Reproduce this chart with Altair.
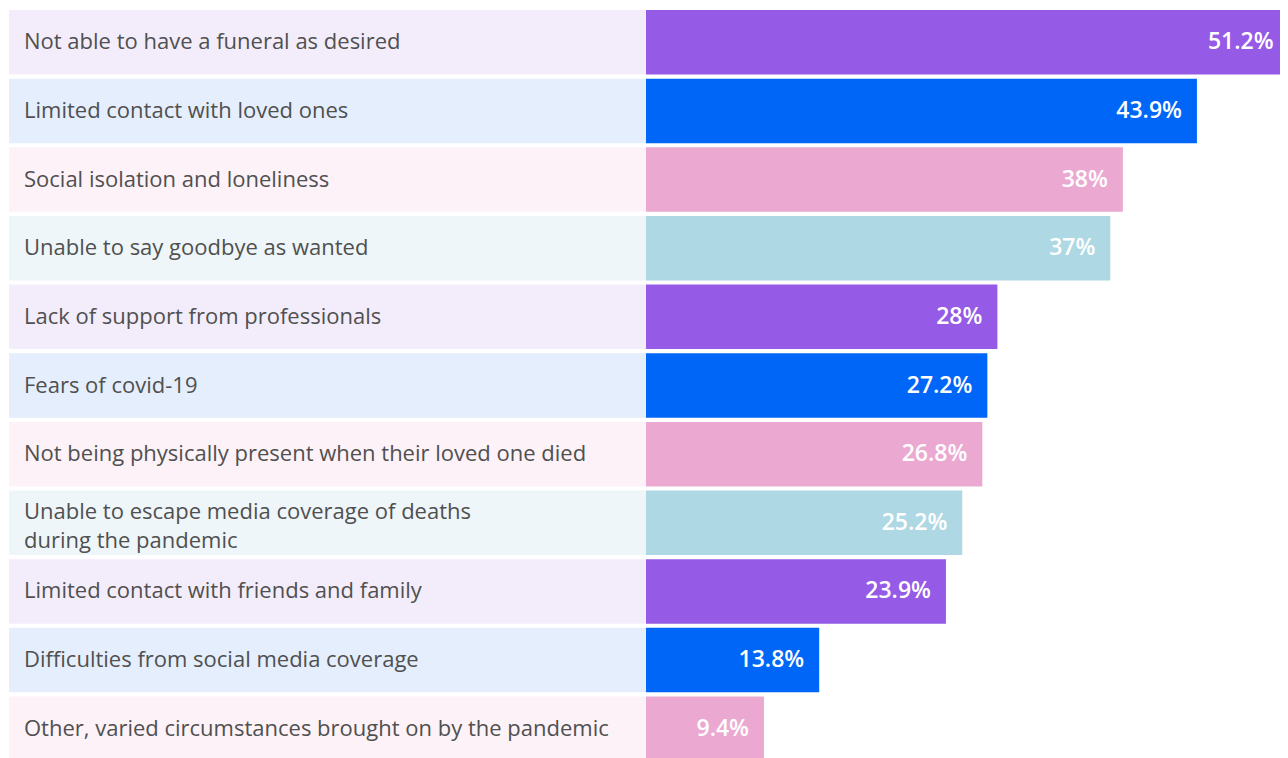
import altair as alt
import pandas as pd

categories = [
    "Not able to have a funeral as desired",
    "Limited contact with loved ones",
    "Social isolation and loneliness",
    "Unable to say goodbye as wanted",
    "Lack of support from professionals",
    "Fears of covid-19",
    "Not being physically present when their loved one died",
    "Unable to escape media coverage of deaths\nduring the pandemic",
    "Limited contact with friends and family",
    "Difficulties from social media coverage",
    "Other, varied circumstances brought on by the pandemic",
]
values = [51.2, 43.9, 38.0, 37.0, 28.0, 27.2, 26.8, 25.2, 23.9, 13.8, 9.4]
value_labels = ["51.2%", "43.9%", "38%", "37%", "28%", "27.2%", "26.8%", "25.2%", "23.9%", "13.8%", "9.4%"]
groups = (["purple", "blue", "pink", "teal"] * 3)[:11]

bar_colors = {"purple": "#955AE6", "blue": "#0066F7", "pink": "#EBA9D2", "teal": "#AED8E3"}
panel_colors = {"purple": "#F3EDFB", "blue": "#E4EEFD", "pink": "#FCF2F8", "teal": "#EEF6F9"}

df = pd.DataFrame({
    "cat": [c.replace("\n", " ") for c in categories],
    "text": categories,
    "value": values,
    "vlabel": value_labels,
    "group": groups,
})
df["multi"] = df["text"].str.contains("\n")

y_enc = alt.Y("cat:N", sort=df["cat"].tolist(), axis=None,
              scale=alt.Scale(paddingInner=0.06, paddingOuter=0, range=[2, 753]))
x_scale = alt.Scale(domain=[-50.84, 50.52], nice=False, zero=False)

base = alt.Chart(df)

panels = base.mark_rect().encode(
    y=y_enc,
    x=alt.value(1),
    x2=alt.value(638),
    color=alt.Color("group:N", scale=alt.Scale(domain=list(panel_colors.keys()),
                                               range=list(panel_colors.values())), legend=None),
)

bars = base.mark_bar(cornerRadius=0, clip=True).encode(
    y=y_enc,
    x=alt.X("zero:Q", scale=x_scale, axis=None),
    x2="value:Q",
    fill=alt.Fill("group:N", scale=alt.Scale(domain=list(bar_colors.keys()),
                                             range=list(bar_colors.values())), legend=None),
).transform_calculate(zero="0")

label_style = dict(align="left", baseline="middle", fontSize=22, font="Open Sans",
                   color="#505050", lineBreak="\n", lineHeight=29)

labels_single = base.mark_text(**label_style).encode(
    y=y_enc,
    x=alt.value(16),
    text="text:N",
).transform_filter("!datum.multi")

labels_multi = base.mark_text(dy=-11, **label_style).encode(
    y=y_enc,
    x=alt.value(16),
    text="text:N",
).transform_filter("datum.multi")

vals = base.mark_text(align="right", baseline="middle", fontSize=23, font="Open Sans",
                      fontWeight=600, color="white", dx=-15).encode(
    y=y_enc,
    x=alt.X("value:Q", scale=x_scale),
    text="vlabel:N",
)

chart = alt.layer(panels, bars, labels_single, labels_multi, vals).properties(
    width=1272, height=750,
    autosize=alt.AutoSizeParams(type="none"),
    padding=0,
    background="white",
).configure_view(stroke=None)

chart.save("out.html", embed_options={"renderer": "svg", "actions": False})
